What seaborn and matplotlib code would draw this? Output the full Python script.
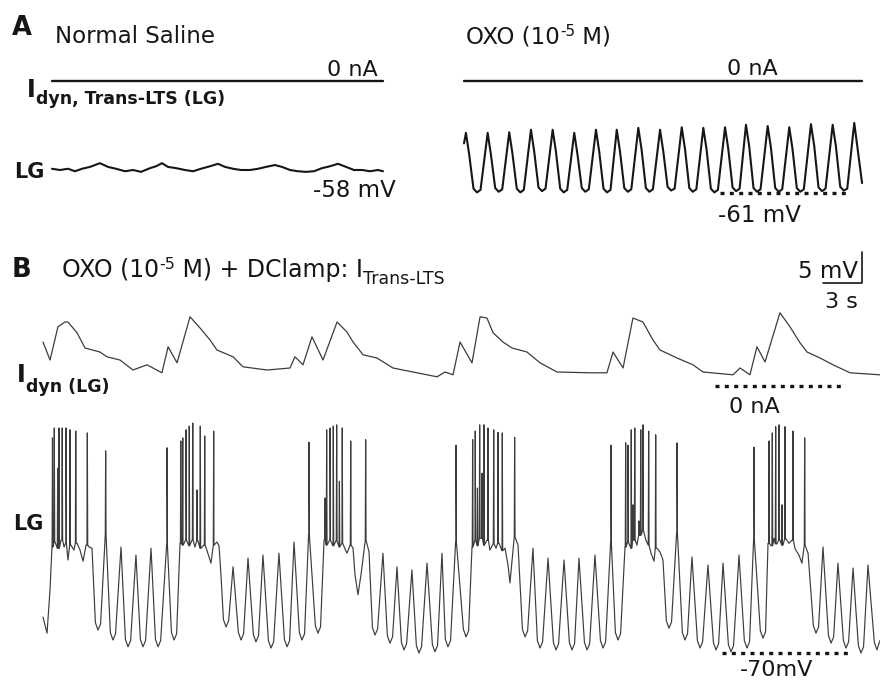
import numpy as np
import pandas as pd
import matplotlib.pyplot as plt
import seaborn as sns

# A, normal saline: LG membrane potential
lg_a_saline_t = [0.00, 0.62, 1.23, 1.77, 2.31, 2.92, 3.69, 4.31, 4.92, 5.62, 6.23, 6.85, 7.54, 8.00, 8.46,
                 8.92, 9.54, 10.23, 10.85, 11.46, 12.15, 12.77, 13.31, 13.92, 14.54, 15.23, 15.85, 16.46,
                 17.15, 17.69, 18.31, 18.92, 19.54, 20.15, 20.77, 21.38, 22.00, 22.62, 23.23, 23.85, 24.46,
                 25.08, 25.46]
lg_a_saline_v = [-57.8, -58.0, -57.8, -58.2, -57.8, -57.5, -56.9, -57.5, -57.8, -58.2, -58.0, -58.3, -57.7,
                 -57.4, -56.9, -57.5, -57.7, -58.0, -58.2, -57.8, -57.4, -57.0, -57.5, -57.8, -58.0, -58.0,
                 -57.8, -57.5, -57.2, -57.5, -58.0, -58.2, -58.3, -58.2, -57.7, -57.4, -57.0, -57.5, -58.0,
                 -58.0, -58.2, -58.0, -58.2]
idyn_a_saline_t = [0.00, 25.46]
idyn_a_saline_i = [0.0, 0.0]

# A, oxotremorine: LG membrane potential (peak, shoulder, rounded trough per cycle)
lg_a_oxo_t = [0.00,
              0.15, 0.40, 0.73, 1.00, 1.27,
              1.82, 2.07, 2.40, 2.67, 2.94,
              3.48, 3.73, 4.06, 4.33, 4.60,
              5.15, 5.40, 5.73, 6.00, 6.27,
              6.82, 7.07, 7.40, 7.67, 7.94,
              8.48, 8.73, 9.06, 9.33, 9.60,
              10.15, 10.40, 10.73, 11.00, 11.27,
              11.75, 12.00, 12.33, 12.60, 12.87,
              13.41, 13.66, 13.99, 14.26, 14.53,
              15.08, 15.33, 15.66, 15.93, 16.20,
              16.75, 17.00, 17.33, 17.60, 17.87,
              18.41, 18.66, 18.99, 19.26, 19.53,
              20.08, 20.33, 20.66, 20.93, 21.20,
              21.69, 21.94, 22.27, 22.54, 22.81,
              23.36, 23.61, 23.94, 24.21, 24.48,
              25.02, 25.27, 25.60, 25.87, 26.14,
              26.69, 26.94, 27.27, 27.54, 27.81,
              28.36, 28.61, 28.94, 29.21, 29.48,
              30.02, 30.62]
lg_a_oxo_v = [-53.0,
              -51.3, -54.8, -60.3, -60.9, -60.5,
              -51.3, -54.8, -60.2, -60.8, -60.4,
              -51.2, -54.7, -60.3, -60.9, -60.5,
              -50.8, -54.3, -60.1, -60.7, -60.3,
              -50.8, -54.3, -60.3, -60.9, -60.5,
              -51.3, -54.8, -60.2, -60.8, -60.4,
              -50.8, -54.3, -60.3, -60.9, -60.5,
              -50.8, -54.3, -60.2, -60.8, -60.4,
              -50.5, -54.0, -60.2, -60.8, -60.4,
              -50.8, -54.3, -60.0, -60.6, -60.3,
              -50.4, -53.9, -60.2, -60.8, -60.4,
              -50.5, -54.0, -60.3, -60.9, -60.5,
              -50.4, -53.9, -60.1, -60.7, -60.3,
              -50.0, -53.5, -60.2, -60.8, -60.4,
              -50.2, -53.7, -60.2, -60.8, -60.4,
              -50.4, -53.9, -60.2, -60.8, -60.4,
              -49.9, -53.4, -60.1, -60.7, -60.3,
              -50.0, -53.5, -60.0, -60.6, -60.3,
              -49.7, -59.4]
idyn_a_oxo_t = [0.00, 30.62]
idyn_a_oxo_i = [0.0, 0.0]

# B, oxotremorine + dynamic clamp: LG slow wave / plateau
lg_b_t = [0.00, 0.31, 0.54, 0.69,
          0.92, 1.15, 1.38, 1.62, 1.77, 1.92, 2.15, 2.38, 2.62, 2.85, 3.08, 3.31, 3.54, 3.77,
          4.03, 4.23, 4.43, 4.85, 5.18, 5.38, 5.58, 6.00, 6.34, 6.54, 6.74, 7.15,
          7.49, 7.69, 7.89, 8.31, 8.65, 8.85, 9.05, 9.54, 9.88, 10.08, 10.28,
          10.54, 10.77, 11.00, 11.23, 11.46, 11.69, 11.92, 12.15, 12.38, 12.62, 12.92, 13.15, 13.38, 13.54, 13.69,
          13.88, 14.08, 14.28, 14.62, 15.03, 15.23, 15.43, 15.77, 16.18, 16.38, 16.58, 16.92,
          17.34, 17.54, 17.74, 18.15, 18.57, 18.77, 18.97, 19.31, 19.72, 19.92, 20.12, 20.46,
          20.95, 21.15, 21.35,
          21.62, 21.85, 22.08, 22.31, 22.54, 22.77, 23.00, 23.23, 23.38, 23.62, 23.85, 24.00, 24.23, 24.46,
          24.69, 24.85, 25.08,
          25.34, 25.54, 25.74, 26.15, 26.49, 26.69, 26.89, 27.23, 27.57, 27.77, 27.97, 28.38,
          28.72, 28.92, 29.12, 29.54, 29.95, 30.15, 30.35, 30.69, 30.95, 31.15, 31.35, 31.77,
          32.34, 32.54, 32.74,
          33.00, 33.23, 33.46, 33.69, 33.92, 34.15, 34.38, 34.62, 34.85, 35.08, 35.31, 35.54, 35.77, 35.92,
          36.31, 36.54,
          36.88, 37.08, 37.28, 37.69, 38.03, 38.23, 38.43, 38.85, 39.26, 39.46, 39.66, 40.08,
          40.49, 40.69, 40.89, 41.23, 41.65, 41.85, 42.05, 42.46, 42.88, 43.08, 43.28, 43.69,
          44.03, 44.23, 44.43,
          44.77, 45.00, 45.23, 45.46, 45.69, 45.92, 46.15, 46.38, 46.62, 46.77, 47.00, 47.23, 47.46, 47.69,
          47.95, 48.15, 48.35, 48.77, 49.18, 49.38, 49.58, 49.92, 50.34, 50.54, 50.74, 51.15,
          51.57, 51.77, 51.97, 52.31, 52.72, 52.92, 53.12, 53.54, 53.95, 54.15, 54.35, 54.69,
          55.18, 55.38, 55.58,
          55.77, 56.00, 56.23, 56.46, 56.69, 56.92, 57.15, 57.38, 57.62, 57.85, 58.15, 58.38, 58.62, 58.85,
          59.26, 59.46, 59.66, 60.00, 60.42, 60.62, 60.82, 61.15, 61.57, 61.77, 61.97, 62.31,
          62.72, 62.92, 63.12, 63.46, 63.95, 64.15, 64.38]
lg_b_v = [-64.2, -66.8, -59.8, -52.9,
          -52.1, -53.1, -51.8, -52.9, -52.3, -55.0, -52.6, -53.4, -52.3, -53.4, -55.2, -52.6, -52.9, -53.1,
          -65.1, -66.3, -65.3, -51.0, -66.7, -67.9, -66.9, -52.9, -67.8, -69.0, -68.0, -54.2,
          -67.8, -69.0, -68.0, -53.1, -67.8, -69.0, -68.0, -52.6, -66.7, -67.9, -66.9,
          -52.3, -52.6, -51.8, -52.7, -51.8, -52.9, -51.9, -53.1, -52.6, -53.5, -55.5, -52.6, -52.1, -52.7, -57.4,
          -64.6, -65.8, -64.8, -56.1, -66.7, -67.9, -66.9, -54.7, -67.0, -68.2, -67.2, -54.2,
          -68.0, -69.2, -68.2, -53.9, -67.8, -69.0, -68.0, -52.1, -66.7, -67.9, -66.9, -51.0,
          -65.6, -66.8, -65.8,
          -51.8, -52.6, -51.8, -52.7, -51.9, -52.9, -52.3, -53.2, -53.9, -52.6, -53.1, -57.4, -60.6, -57.4,
          -53.4, -51.8, -53.7,
          -65.9, -67.1, -66.1, -53.9, -67.2, -68.4, -67.4, -56.1, -68.3, -69.5, -68.5, -56.6,
          -68.8, -70.0, -69.0, -55.5, -68.6, -69.8, -68.8, -53.9, -67.8, -69.0, -68.0, -52.1,
          -66.2, -67.4, -66.4,
          -52.9, -51.8, -52.7, -51.5, -52.6, -51.8, -53.4, -52.4, -53.1, -52.3, -53.5, -53.1, -55.8, -58.7,
          -51.3, -52.6,
          -66.2, -67.4, -66.4, -53.1, -68.0, -69.2, -68.2, -54.7, -68.3, -69.5, -68.5, -55.0,
          -68.3, -69.5, -68.5, -54.7, -68.3, -69.5, -68.5, -54.2, -68.0, -69.2, -68.2, -52.3,
          -66.7, -67.9, -66.9,
          -52.9, -52.1, -53.1, -51.8, -52.6, -51.0, -50.2, -51.8, -52.6, -53.9, -55.2, -53.1, -53.7, -55.0,
          -64.8, -66.0, -65.0, -50.6, -66.7, -67.9, -66.9, -54.5, -68.0, -69.2, -68.2, -55.8,
          -68.3, -69.5, -68.5, -55.5, -68.6, -69.8, -68.8, -54.2, -68.0, -69.2, -68.2, -51.8,
          -66.4, -67.6, -66.6,
          -52.3, -52.7, -51.5, -52.4, -51.8, -52.6, -51.6, -52.3, -51.8, -53.2, -54.2, -55.5, -52.6, -53.9,
          -65.6, -66.8, -65.8, -52.9, -67.2, -68.4, -67.4, -55.5, -68.0, -69.2, -68.2, -56.3,
          -68.8, -70.0, -69.0, -55.8, -68.3, -69.5, -68.0]

# B: action potentials (time of spike, peak voltage)
spike_t = [0.73, 0.87, 1.13, 1.23, 1.48, 1.77, 2.08, 2.52, 3.41, 4.82,
           9.54, 10.60, 10.75, 11.00, 11.25, 11.52, 11.85, 12.10, 12.44, 13.13,
           20.46, 21.70, 21.82, 22.08, 22.33, 22.59, 22.80, 23.02, 23.67, 24.82,
           31.77, 33.05, 33.25, 33.42, 33.59, 33.77, 33.92, 34.23, 34.67, 35.00, 35.33, 36.28,
           43.69, 44.82, 45.00, 45.25, 45.38, 45.52, 45.85, 45.98, 46.15, 46.59, 47.13, 48.77,
           54.69, 55.85, 56.10, 56.36, 56.62, 56.85, 57.08, 57.69, 58.59]
spike_v = [-35.3, -33.7, -40.2, -33.7, -33.7, -33.7, -34.0, -34.2, -34.5, -37.4,
           -36.9, -35.8, -35.3, -34.0, -33.4, -32.9, -43.7, -33.4, -35.0, -34.2,
           -36.0, -45.0, -34.0, -33.7, -33.4, -33.2, -42.3, -33.7, -35.8, -35.6,
           -36.5, -35.6, -34.2, -43.4, -33.2, -41.0, -33.2, -33.7, -34.0, -34.4, -34.5, -35.2,
           -36.5, -36.1, -36.5, -34.0, -46.1, -33.7, -48.7, -34.0, -33.2, -34.2, -34.8, -36.1,
           -36.8, -35.8, -34.5, -33.5, -33.2, -46.1, -33.5, -34.2, -35.3]

# B: dynamic-clamp current injected into LG
idyn_b_t = [0.00, 0.54, 1.15, 1.69, 1.92, 2.62, 3.23, 4.38, 4.92, 5.92,
            6.92, 8.00, 9.15, 9.62, 10.31, 11.31, 12.08, 12.85, 13.38, 14.62,
            15.38, 17.23, 19.00, 19.38, 20.00, 20.69, 21.54, 22.62, 23.38, 23.85,
            24.62, 25.69, 26.92, 28.77, 30.31, 30.92, 31.54, 32.08, 33.00, 33.62,
            34.15, 34.62, 35.38, 36.08, 37.23, 38.23, 39.54, 42.08, 43.38, 43.85,
            44.62, 45.38, 46.15, 46.92, 47.46, 48.77, 50.00, 50.77, 53.08, 53.62,
            54.38, 54.92, 55.54, 56.69, 57.46, 58.23, 58.77, 59.77, 60.77, 62.08, 64.38]
idyn_b_i = [1.10, 0.65, 1.48, 1.60, 1.60, 1.33, 0.95, 0.85, 0.73, 0.65,
            0.40, 0.53, 0.33, 0.98, 0.58, 1.73, 1.45, 1.15, 0.90, 0.73,
            0.48, 0.40, 0.45, 0.73, 0.53, 1.23, 0.65, 1.60, 1.35, 1.10,
            0.78, 0.70, 0.45, 0.33, 0.23, 0.35, 0.28, 1.10, 0.58, 1.73,
            1.70, 1.33, 1.10, 0.95, 0.85, 0.58, 0.35, 0.33, 0.33, 0.85,
            0.45, 1.70, 1.60, 1.15, 0.90, 0.70, 0.53, 0.35, 0.28, 0.45,
            0.28, 0.98, 0.60, 1.83, 1.48, 1.08, 0.85, 0.70, 0.53, 0.33, 0.28]

# reference levels (dotted) and scale bar
ref_a_oxo_t = [19.69, 29.69]
ref_a_oxo_v = [-61, -61]
ref_b_idyn_t = [51.69, 61.54]
ref_b_idyn_i = [0, 0]
ref_b_lg_t = [52.23, 62.08]
ref_b_lg_v = [-70, -70]
scalebar_t = [0, 3, 3]
scalebar_v = [0, 0, 5]

# ---- figure ----
sns.set_theme(style="white")
plt.rcParams["font.family"] = ["DejaVu Sans"]

W, H = 880, 680
PX_S, PX_MV, PX_NA = 13.0, 6.2, 40.0
INK = "#161616"
GREY = "#3c3c3c"

fig = plt.figure(figsize=(W / 100, H / 100), dpi=100)
fig.patch.set_facecolor("white")


def trace_ax(left, top, tmax, ylo, yhi, px_per_y):
    w = tmax * PX_S
    h = (yhi - ylo) * px_per_y
    ax = fig.add_axes([left / W, 1 - (top + h) / H, w / W, h / H])
    ax.set_xlim(0, tmax)
    ax.set_ylim(ylo, yhi)
    ax.set_axis_off()
    return ax


def trace(ax, t, v, lw, color, **kw):
    sns.lineplot(x=t, y=v, ax=ax, sort=False, estimator=None, lw=lw, color=color,
                 clip_on=False, **kw)


def dotted(ax, t, v):
    sns.lineplot(x=t, y=v, ax=ax, sort=False, estimator=None, lw=2.4, color=INK,
                 linestyle=(0, (1.2, 1.6)), dash_capstyle="butt", clip_on=False)


def txt(x, y, s, size=16.5, weight="normal", ha="left"):
    return fig.text(x / W, 1 - y / H, s, fontsize=size, fontweight=weight, color=INK,
                    ha=ha, va="baseline")


def chain(x, y, parts):
    rend = fig.canvas.get_renderer()
    for s, size, dy, weight in parts:
        t = txt(x, y + dy, s, size, weight)
        x += t.get_window_extent(rend).width


# panel A, saline
ax = trace_ax(52, 61, idyn_a_saline_t[-1], -0.5, 0.5, PX_NA)
trace(ax, idyn_a_saline_t, idyn_a_saline_i, 1.7, INK)
ax = trace_ax(52, 145.2, lg_a_saline_t[-1], -62, -54, PX_MV)
trace(ax, lg_a_saline_t, lg_a_saline_v, 1.5, INK)

# panel A, OXO
ax = trace_ax(464, 61, idyn_a_oxo_t[-1], -0.5, 0.5, PX_NA)
trace(ax, idyn_a_oxo_t, idyn_a_oxo_i, 1.7, INK)
ax = trace_ax(464, 106.2, lg_a_oxo_t[-1], -63, -47, PX_MV)
trace(ax, lg_a_oxo_t, lg_a_oxo_v, 1.5, INK)
dotted(ax, ref_a_oxo_t, ref_a_oxo_v)

# panel B, dynamic clamp current
ax = trace_ax(43, 298, idyn_b_t[-1], -0.5, 2.2, PX_NA)
trace(ax, idyn_b_t, idyn_b_i, 0.9, GREY)
dotted(ax, ref_b_idyn_t, ref_b_idyn_i)

# panel B, LG with spikes merged into the slow wave
slow = pd.DataFrame({"t": lg_b_t, "v": lg_b_v})
rows = []
for ts, vs in zip(spike_t, spike_v):
    foot = slow["v"].iloc[(slow["t"] - ts).abs().argmin()]
    rows += [(ts - 0.03, foot), (ts, vs), (ts + 0.03, foot)]
spk = pd.DataFrame(rows, columns=["t", "v"])
lg_b = pd.concat([slow, spk]).sort_values("t", kind="stable")
ax = trace_ax(43, 405, lg_b_t[-1], -72, -30, PX_MV)
trace(ax, lg_b["t"].to_numpy(), lg_b["v"].to_numpy(), 0.85, GREY)
dotted(ax, ref_b_lg_t, ref_b_lg_v)

# scale bar
ax = trace_ax(823, 252, 3, 0, 5, PX_MV)
trace(ax, scalebar_t, scalebar_v, 1.2, INK)

# ---- labels ----
txt(12, 35, "A", 18.5, "bold")
txt(55, 43, "Normal Saline", 16.5)
txt(378, 76, "0 nA", 16, ha="right")
chain(27, 97, [("I", 17, 0, "bold"), ("dyn, Trans-LTS (LG)", 12.5, 7, "bold")])
txt(14, 178, "LG", 15, "bold")
txt(396, 197, "-58 mV", 16.5, ha="right")

chain(466, 44, [("OXO (10", 16.5, 0, "normal"), ("-5", 11, -8, "normal"), (" M)", 16.5, 0, "normal")])
txt(778, 75, "0 nA", 16, ha="right")
txt(718, 222, "-61 mV", 16.5)

txt(12, 277, "B", 18.5, "bold")
chain(62, 277, [("OXO (10", 17, 0, "normal"), ("-5", 11.5, -8, "normal"),
                (" M) + DClamp: I", 17, 0, "normal"), ("Trans-LTS", 12.5, 7, "normal")])
txt(858, 278, "5 mV", 16.5, ha="right")
txt(858, 308, "3 s", 16, ha="right")
chain(17, 382, [("I", 17, 0, "bold"), ("dyn (LG)", 12.5, 10, "bold")])
txt(780, 413, "0 nA", 16, ha="right")
txt(13, 530, "LG", 15, "bold")
txt(740, 676, "-70mV", 16)

fig.savefig("out.png", dpi=100, facecolor="white")
